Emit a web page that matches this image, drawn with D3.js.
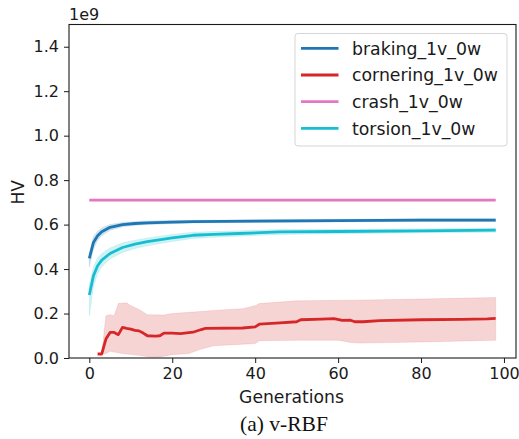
<!DOCTYPE html>
<html>
<head>
<meta charset="utf-8">
<script src="https://cdn.jsdelivr.net/npm/d3@7"></script>
<style>
  body { margin: 0; background: #fff; }
  text { font-family: "DejaVu Sans", sans-serif; }
</style>
</head>
<body>
<div id="chart"></div>
<script>
const width = 519;
const height = 439;
const margin = {top: 24.5, right: 3, bottom: 81, left: 69};

// series values, values in units of 1e9, [generation, HV]
const seriesNames = ["braking_1v_0w", "cornering_1v_0w", "crash_1v_0w", "torsion_1v_0w"];
const seriesColors = ["#1f77b4", "#d62728", "#e377c2", "#17becf"];

const brakingMean = [[0,0.448],[1,0.52],[2,0.55],[3,0.568],[5,0.588],[8,0.6],[11,0.605],[14,0.608],[20,0.611],[25,0.613],[40,0.616],[60,0.618],[80,0.62],[98,0.62]];
const brakingLow  = [[0,0.41],[1,0.49],[2,0.53],[3,0.55],[5,0.575],[8,0.59],[11,0.597],[14,0.6],[20,0.604],[25,0.607],[40,0.61],[60,0.612],[80,0.614],[98,0.614]];
const brakingHigh = [[0,0.47],[1,0.545],[2,0.57],[3,0.585],[5,0.6],[8,0.61],[11,0.613],[14,0.616],[20,0.618],[25,0.619],[40,0.622],[60,0.624],[80,0.626],[98,0.626]];

const corneringMean = [[2,0.018],[3,0.018],[4,0.085],[5,0.115],[6,0.115],[7,0.105],[8,0.138],[9,0.133],[10,0.13],[11,0.124],[12,0.122],[13,0.112],[14,0.1],[16,0.098],[17,0.1],[18,0.112],[20,0.112],[22,0.11],[25,0.116],[27,0.128],[28,0.133],[37,0.135],[40,0.14],[41,0.152],[46,0.158],[50,0.163],[51,0.172],[56,0.175],[59,0.177],[61,0.169],[63,0.17],[64,0.163],[66,0.163],[70,0.168],[80,0.172],[90,0.174],[96,0.176],[98,0.178]];
const corneringLow  = [[2,0.018],[3,0.018],[4,0.02],[5,0.03],[8,0.02],[12,0.012],[15,0.003],[17,0.005],[20,0.015],[24,0.02],[27,0.04],[30,0.055],[37,0.062],[40,0.065],[41,0.078],[50,0.08],[60,0.08],[63,0.07],[65,0.067],[80,0.072],[98,0.08]];
const corneringHigh = [[2,0.018],[3,0.018],[4,0.19],[5,0.195],[6,0.19],[7,0.245],[9,0.248],[10,0.235],[12,0.218],[14,0.195],[18,0.193],[20,0.2],[26,0.208],[31,0.215],[37,0.222],[40,0.235],[41,0.245],[50,0.257],[64,0.26],[80,0.265],[98,0.272]];

const crashMean = [[0,0.71],[98,0.71]];
const crashLow  = [[0,0.708],[98,0.708]];
const crashHigh = [[0,0.712],[98,0.712]];

const torsionMean = [[0,0.283],[1,0.37],[2,0.415],[3,0.44],[5,0.47],[8,0.497],[11,0.512],[14,0.523],[20,0.54],[25,0.552],[30,0.556],[36,0.56],[46,0.567],[60,0.569],[80,0.572],[98,0.575]];
const torsionLow  = [[0,0.19],[1,0.32],[2,0.38],[3,0.41],[5,0.445],[8,0.475],[11,0.492],[14,0.505],[20,0.524],[25,0.538],[30,0.543],[36,0.548],[46,0.556],[60,0.559],[80,0.563],[98,0.566]];
const torsionHigh = [[0,0.33],[1,0.41],[2,0.45],[3,0.47],[5,0.495],[8,0.518],[11,0.53],[14,0.54],[20,0.556],[25,0.566],[30,0.569],[36,0.572],[46,0.578],[60,0.579],[80,0.581],[98,0.584]];

const xTicks = [0, 20, 40, 60, 80, 100];
const yTicks = [0, 0.2, 0.4, 0.6, 0.8, 1.0, 1.2, 1.4];

const series = [
  {name: seriesNames[0], color: seriesColors[0], mean: brakingMean, low: brakingLow, high: brakingHigh},
  {name: seriesNames[1], color: seriesColors[1], mean: corneringMean, low: corneringLow, high: corneringHigh},
  {name: seriesNames[2], color: seriesColors[2], mean: crashMean, low: crashLow, high: crashHigh},
  {name: seriesNames[3], color: seriesColors[3], mean: torsionMean, low: torsionLow, high: torsionHigh}
];

let svg = d3.select("#chart").append("svg")
    .attr("width", width)
    .attr("height", height);

let x = d3.scaleLinear()
    .domain([-4.9, 102.9])
    .range([margin.left, width - margin.right]);

let y = d3.scaleLinear()
    .domain([0, 1.5])
    .range([height - margin.bottom, margin.top]);

let line = d3.line()
    .x(d => x(d[0]))
    .y(d => y(d[1]));

// bands
series.forEach(s => {
  let poly = s.high.concat(s.low.slice().reverse());
  svg.append("path")
      .attr("d", line(poly) + "Z")
      .attr("fill", s.color)
      .attr("fill-opacity", 0.2)
      .attr("stroke", s.color)
      .attr("stroke-opacity", 0.12)
      .attr("stroke-width", 1);
});

// mean lines
series.forEach(s => {
  svg.append("path")
      .attr("d", line(s.mean))
      .attr("fill", "none")
      .attr("stroke", s.color)
      .attr("stroke-width", 2.8)
      .attr("stroke-linejoin", "round");
});

// axes
let xAxis = svg.append("g")
    .attr("transform", `translate(0,${height - margin.bottom})`)
    .call(d3.axisBottom(x).tickValues(xTicks).tickSize(5).tickSizeOuter(0).tickPadding(5));

let yAxis = svg.append("g")
    .attr("transform", `translate(${margin.left},0)`)
    .call(d3.axisLeft(y).tickValues(yTicks).tickFormat(d3.format(".1f")).tickSize(5).tickSizeOuter(0).tickPadding(5));

[xAxis, yAxis].forEach(a => {
  a.select(".domain").remove();
  a.selectAll("text").style("font-size", "16px").attr("fill", "#1a1a1a");
  a.selectAll("line").attr("stroke", "#1a1a1a").attr("stroke-width", 1);
});

// frame
svg.append("rect")
    .attr("x", margin.left)
    .attr("y", margin.top)
    .attr("width", width - margin.right - margin.left)
    .attr("height", height - margin.bottom - margin.top)
    .attr("fill", "none")
    .attr("stroke", "#1a1a1a")
    .attr("stroke-width", 1.1);

// offset text
svg.append("text")
    .attr("x", margin.left)
    .attr("y", 20)
    .style("font-size", "16px")
    .attr("fill", "#1a1a1a")
    .text("1e9");

// axis labels
svg.append("text")
    .attr("x", (margin.left + width - margin.right) / 2 - 1)
    .attr("y", 403)
    .attr("text-anchor", "middle")
    .style("font-size", "17.2px")
    .attr("fill", "#1a1a1a")
    .text("Generations");

svg.append("text")
    .attr("transform", `translate(24, ${(margin.top + height - margin.bottom) / 2 + 1}) rotate(-90)`)
    .attr("text-anchor", "middle")
    .style("font-size", "17.2px")
    .attr("fill", "#1a1a1a")
    .text("HV");

// caption
svg.append("text")
    .attr("x", 284)
    .attr("y", 431)
    .attr("text-anchor", "middle")
    .style("font-family", "'Liberation Serif', 'DejaVu Serif', serif")
    .style("font-size", "21.5px")
    .attr("fill", "#111")
    .text("(a) v-RBF");

// legend
let legend = svg.append("g");
legend.append("rect")
    .attr("x", 295)
    .attr("y", 33.5)
    .attr("width", 212)
    .attr("height", 112.5)
    .attr("rx", 3)
    .attr("fill", "#fff")
    .attr("fill-opacity", 0.8)
    .attr("stroke", "#d5d5d5")
    .attr("stroke-width", 1);

series.forEach((s, i) => {
  let ly = 48.3 + i * 26.7;
  legend.append("line")
      .attr("x1", 301).attr("x2", 338.5)
      .attr("y1", ly).attr("y2", ly)
      .attr("stroke", s.color)
      .attr("stroke-width", 2.8);
  legend.append("text")
      .attr("x", 352)
      .attr("y", ly)
      .attr("dy", "0.36em")
      .style("font-size", "17.3px")
      .attr("fill", "#1a1a1a")
      .text(s.name);
});
</script>
</body>
</html>
